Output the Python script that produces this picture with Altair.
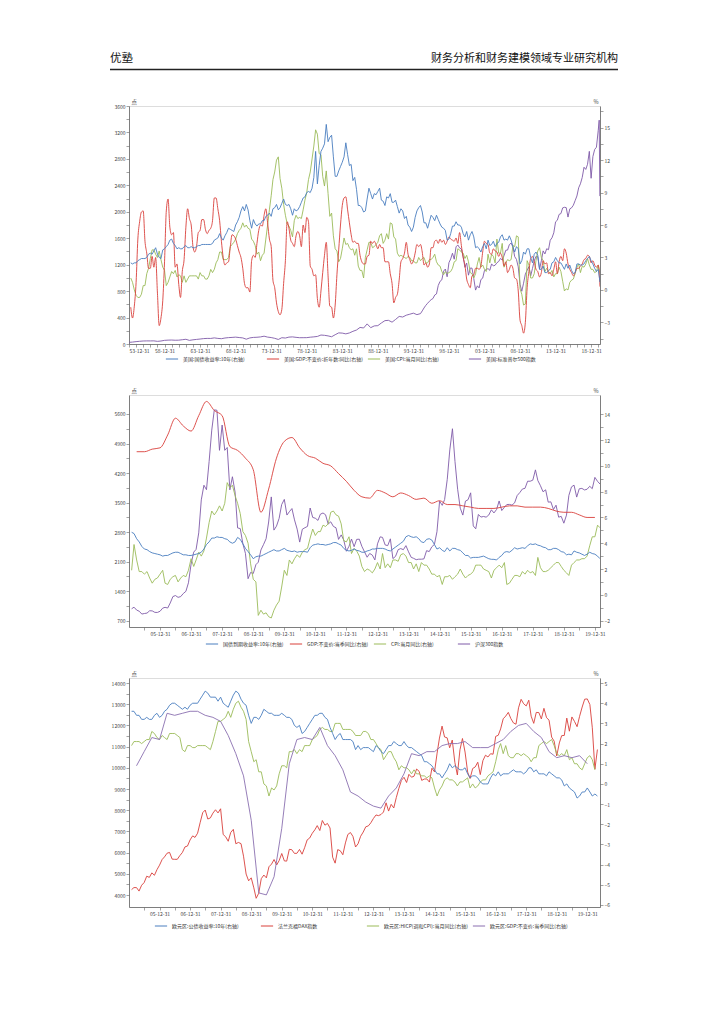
import altair as alt
import pandas as pd

FONT = "Noto Sans CJK SC"


def _freq(a, b):
    try:
        pd.date_range("2000-01-31", periods=2, freq=a)
        return a
    except Exception:
        return b


QF = _freq("QE", "Q")
MF = _freq("ME", "M")
HF = _freq("6ME", "6M")

# ---------------- Chart 1 : USA ----------------
us_names = ["美国:国债收益率:10年(右轴)", "美国:GDP:不变价:折年数:同比(右轴)",
            "美国:CPI:当月同比(右轴)", "美国:标准普尔500指数"]
us_colors = ["#4a7ebf", "#d9403b", "#9bbb59", "#7f5aa8"]

us_yield_q = [
    2.5, 2.4, 2.5, 2.5, 2.7, 2.8, 2.9, 2.9, 2.9, 3.0, 3.3, 3.4, 3.3, 3.6, 3.9, 3.3,
    3.0, 2.9, 3.7, 3.8, 4.0, 4.2, 4.6, 4.7, 4.3, 4.1, 3.8, 3.9, 3.8, 3.8, 4.0, 4.1,
    3.9, 3.9, 4.0, 3.9, 3.9, 4.0, 4.1, 4.1, 4.2, 4.2, 4.2, 4.2, 4.2, 4.2, 4.3, 4.6,
    4.7, 4.8, 5.2, 4.8, 4.6, 5.0, 5.3, 5.7, 5.6, 5.5, 5.4, 6.0, 6.3, 6.7, 7.3, 7.7,
    7.3, 7.9, 7.4, 6.4, 5.7, 6.5, 6.1, 5.9, 6.1, 6.1, 6.4, 6.4, 6.8, 6.9, 7.1, 6.8,
    7.5, 7.6, 7.9, 7.4, 7.6, 8.0, 8.4, 7.9, 7.8, 7.9, 7.5, 6.9, 7.5, 7.3, 7.4, 7.7,
    8.1, 8.5, 8.6, 9.0, 9.1, 9.0, 9.4, 10.4, 12.8, 9.8, 11.5, 12.8, 13.1, 13.5, 15.3, 13.7,
    14.1, 14.3, 12.3, 10.5, 10.5, 11.0, 11.4, 11.8, 12.3, 13.6, 12.5, 11.5, 11.6, 10.1, 10.4, 9.3,
    7.8, 7.8, 7.6, 7.2, 7.3, 8.4, 9.4, 8.9, 8.4, 8.9, 8.8, 9.1, 9.4, 8.3, 8.2, 7.8,
    8.6, 8.5, 8.9, 8.1, 8.1, 8.3, 7.7, 7.1, 7.5, 7.3, 6.6, 6.8, 6.0, 5.8, 5.4, 5.8,
    6.7, 7.3, 7.6, 7.8, 7.2, 6.2, 6.2, 5.7, 6.3, 6.9, 6.7, 6.4, 6.9, 6.5, 6.1, 5.8,
    5.7, 5.5, 4.6, 4.7, 5.2, 5.9, 5.9, 6.3, 6.0, 6.0, 5.8, 5.2, 4.9, 5.4, 4.6, 5.1,
    5.4, 4.9, 3.9, 4.0, 3.8, 3.5, 4.0, 4.3, 3.8, 4.6, 4.1, 4.2, 4.5, 4.0, 4.3, 4.4,
    4.9, 5.1, 4.6, 4.7, 4.6, 5.0, 4.6, 4.0, 3.5, 4.0, 3.8, 2.4, 2.7, 3.5, 3.3, 3.8,
    3.8, 3.0, 2.5, 3.3, 3.5, 3.2, 1.9, 1.9, 2.2, 1.6, 1.6, 1.8, 1.9, 2.5, 2.6, 3.0,
    2.7, 2.5, 2.5, 2.2, 1.9, 2.4, 2.0, 2.3, 1.8, 1.5, 1.6, 2.4, 2.4, 2.3, 2.3, 2.4,
    2.7, 2.9, 3.1, 2.7, 2.4, 2.0, 1.7, 1.9, 0.7]

us_gdp_q = [
    -1.6, -2.6, -1.5, 0.7, 4.7, 6.3, 7.2, 7.3, 4.5, 3.4, 2.0, 2.0, 3.1, 2.1, 3.0, -0.3,
    -3.3, -2.6, -1.0, 2.6, 7.3, 8.4, 5.8, 5.1, 5.3, 2.1, 2.4, 0.5, -0.7, 1.7, 2.8, 5.8,
    7.5, 6.6, 6.0, 4.0, 3.5, 4.0, 5.3, 5.5, 6.5, 6.5, 5.6, 5.2, 5.5, 5.7, 6.4, 8.5,
    8.5, 7.5, 6.4, 4.5, 3.0, 2.3, 2.5, 2.6, 4.0, 5.1, 5.0, 4.7, 4.1, 3.5, 3.0, 2.0,
    0.6, 0.2, 0.2, -0.2, 2.7, 3.2, 3.0, 4.3, 5.5, 6.0, 5.9, 6.9, 7.5, 6.2, 4.7, 4.0,
    0.9, 0.2, -1.2, -2.0, -2.3, -1.8, 0.6, 2.7, 6.3, 5.7, 4.6, 4.3, 4.0, 5.0, 5.4, 5.0,
    4.0, 6.0, 5.3, 6.7, 6.3, 2.2, 1.9, 1.3, 1.4, -0.8, -1.6, -0.1, 1.6, 3.2, 4.4, 1.3,
    -1.5, -1.6, -2.6, -1.4, 1.4, 3.7, 6.0, 7.8, 8.5, 8.6, 7.4, 6.2, 5.1, 4.4, 4.5, 4.3,
    4.3, 3.2, 2.6, 2.4, 2.4, 3.1, 3.2, 4.5, 4.3, 4.5, 4.2, 3.8, 4.2, 3.9, 3.9, 2.6,
    2.6, 2.6, 1.5, 0.6, -1.2, -0.7, -0.4, 0.9, 2.6, 2.9, 3.4, 4.4, 3.3, 2.8, 2.4, 2.7,
    3.4, 4.2, 4.0, 4.2, 3.5, 2.3, 2.5, 2.1, 2.4, 3.9, 3.9, 4.5, 4.6, 4.3, 4.7, 4.4,
    4.6, 4.2, 4.5, 4.9, 4.7, 4.6, 4.5, 4.8, 4.3, 5.3, 4.1, 3.0, 2.3, 1.0, 0.5, 0.2,
    1.3, 1.4, 2.0, 2.0, 1.9, 2.2, 3.5, 4.5, 4.3, 4.2, 3.4, 3.3, 3.8, 3.6, 3.5, 3.1,
    3.4, 3.0, 2.2, 2.6, 1.6, 1.9, 2.3, 2.0, 1.1, 1.0, -0.1, -2.8, -3.3, -4.0, -3.0, 0.2,
    1.7, 2.9, 3.1, 2.6, 1.9, 1.7, 1.2, 1.6, 2.7, 2.4, 2.5, 1.5, 1.6, 1.3, 1.9, 2.6,
    1.5, 2.6, 3.1, 2.7, 3.8, 3.4, 2.4, 1.9, 1.6, 1.3, 1.6, 2.0, 2.0, 2.2, 2.4, 2.8,
    2.9, 3.2, 3.1, 2.5, 2.7, 2.3, 2.1, 2.3, 0.3]

us_cpi_q = [
    1.1, 0.7, 0.0, -0.5, -0.7, -0.7, -0.4, 0.4, 0.4, 1.5, 2.0, 2.9, 3.7, 3.7, 3.3, 3.0,
    3.6, 2.8, 2.1, 1.8, 0.4, 0.7, 1.2, 1.7, 1.5, 1.8, 1.2, 1.4, 1.3, 0.7, 1.3, 0.7,
    1.0, 1.3, 1.3, 1.3, 1.3, 1.3, 1.0, 1.6, 1.3, 1.3, 1.0, 1.0, 1.3, 1.9, 1.6, 1.9,
    2.5, 2.8, 3.5, 3.5, 2.8, 2.8, 2.8, 3.0, 4.0, 4.2, 4.4, 4.7, 5.2, 5.5, 5.7, 6.2,
    5.8, 6.0, 5.7, 5.6, 4.7, 4.5, 4.1, 3.3, 3.5, 2.7, 3.2, 3.4, 4.7, 6.0, 7.4, 8.7,
    10.2, 10.9, 12.0, 12.3, 10.3, 9.4, 7.9, 6.9, 6.1, 5.9, 5.5, 4.9, 6.4, 6.9, 6.6, 6.7,
    6.6, 7.4, 8.3, 9.0, 10.2, 10.9, 12.1, 13.3, 14.8, 14.4, 12.6, 12.5, 10.5, 9.6, 11.0, 8.9,
    6.8, 7.1, 5.0, 3.8, 3.6, 2.6, 2.9, 3.8, 4.8, 4.2, 4.3, 3.9, 3.7, 3.8, 3.2, 3.8,
    2.2, 1.8, 1.8, 1.1, 3.0, 3.7, 4.4, 4.4, 3.9, 4.0, 4.2, 4.4, 5.0, 5.2, 4.3, 4.6,
    5.2, 4.7, 6.2, 6.1, 4.9, 4.7, 3.4, 3.1, 3.2, 3.1, 3.0, 2.9, 3.1, 3.0, 2.7, 2.7,
    2.5, 2.5, 3.0, 2.7, 2.9, 3.0, 2.5, 2.5, 2.8, 2.8, 3.0, 3.3, 2.6, 2.3, 2.2, 1.7,
    1.4, 1.7, 1.5, 1.6, 1.7, 2.0, 2.6, 2.7, 3.8, 3.7, 3.5, 3.4, 2.9, 3.2, 2.6, 1.6,
    1.5, 1.1, 1.5, 2.4, 3.0, 2.1, 2.3, 1.9, 1.7, 3.3, 2.5, 3.3, 3.1, 2.5, 4.7, 3.4,
    3.4, 4.3, 2.1, 2.5, 2.8, 2.7, 2.8, 4.1, 4.0, 5.0, 4.9, 0.1, -0.4, -1.4, -1.3, 2.7,
    2.3, 1.1, 1.1, 1.5, 2.7, 3.6, 3.9, 3.0, 2.7, 1.7, 2.0, 1.7, 1.5, 1.8, 1.2, 1.5,
    1.5, 2.1, 1.7, 0.8, -0.1, 0.1, 0.0, 0.7, 0.9, 1.0, 1.5, 2.1, 2.4, 1.6, 2.2, 2.1,
    2.4, 2.9, 2.3, 1.9, 1.9, 1.6, 1.7, 2.3, 1.5]

sp_half = [
    24.8, 29.2, 36.0, 41.0, 45.5, 47.0, 46.7, 47.4, 40.0, 45.2, 55.2, 58.5, 59.9,
    56.9, 58.1, 64.6, 71.6, 54.8, 63.1, 69.4, 75.0, 81.7, 84.8, 84.1, 92.4,
    84.7, 80.3, 90.6, 96.5, 99.6, 103.9, 97.7, 92.1, 72.7, 92.2, 99.7, 102.1,
    107.1, 118.1, 104.3, 97.6, 86.0, 68.6, 95.2, 90.2, 104.3, 107.5, 100.5, 95.1,
    95.5, 96.1, 102.9, 107.9, 114.2, 135.8, 131.2, 122.6, 109.6, 140.6, 168.1, 164.9,
    153.2, 167.2, 191.9, 211.3, 250.8, 242.2, 304.0, 247.1, 273.5, 277.7, 318.0, 353.4,
    358.0, 330.2, 371.2, 417.1, 408.1, 435.7, 450.5, 466.5, 444.3, 459.3]
sp_quarter = [
    500.7, 544.8, 584.4, 615.9, 645.5, 670.6, 687.3, 740.7, 757.1, 885.1, 947.3, 970.4,
    1101.8, 1133.8, 1017.0, 1229.2, 1286.4, 1372.7, 1282.7, 1469.3, 1498.6, 1454.6, 1436.5, 1320.3,
    1160.3, 1224.4, 1040.9, 1148.1, 1147.4, 989.8, 815.3, 879.8, 848.2, 974.5, 996.0, 1111.9,
    1126.2, 1140.8, 1114.6, 1211.9, 1180.6, 1191.3, 1228.8, 1248.3, 1294.8, 1270.2, 1335.8, 1418.3,
    1420.9, 1503.4, 1526.8, 1468.4, 1322.7, 1280.0, 1166.4, 903.3, 797.9, 919.3, 1057.1, 1115.1,
    1169.4, 1030.7, 1141.2, 1257.6, 1325.8, 1320.6, 1131.4, 1257.6, 1408.5, 1362.2, 1440.7, 1426.2,
    1569.2, 1606.3, 1681.6, 1848.4, 1872.3, 1960.2, 1972.3, 2058.9, 2067.9, 2063.1, 1920.0, 2043.9,
    2059.7, 2098.9, 2168.3, 2238.8, 2362.7, 2423.4, 2519.4, 2673.6, 2640.9, 2718.4, 2914.0, 2506.9,
    2834.4, 2941.8, 2976.7, 3230.8]
sp_tail_dates = ["2020-02-19", "2020-03-23"]
sp_tail = [3386.0, 2237.0]

# ---------------- Chart 2 : China ----------------
cn_names = ["国债到期收益率:10年(右轴)", "GDP:不变价:当季同比(右轴)",
            "CPI:当月同比(右轴)", "沪深300指数"]
cn_colors = ["#4a7ebf", "#d9403b", "#9bbb59", "#7f5aa8"]

cn_yield_m = [
    4.85, 4.75, 4.35, 4.10, 3.75, 3.55, 3.50, 3.35, 3.25, 3.20, 3.15, 3.10,
    3.00, 3.05, 3.05, 3.15, 3.25, 3.30, 3.30, 3.20, 3.10, 3.10, 3.05, 3.05,
    3.10, 3.15, 3.20, 3.30, 3.55, 3.90, 4.10, 4.40, 4.40, 4.50, 4.45, 4.45,
    4.35, 4.30, 4.10, 4.00, 4.10, 4.45, 4.30, 3.95, 3.60, 3.35, 3.10, 2.80,
    2.95, 3.00, 3.00, 3.10, 3.20, 3.30, 3.40, 3.50, 3.40, 3.40, 3.50, 3.60,
    3.45, 3.40, 3.35, 3.40, 3.30, 3.35, 3.35, 3.35, 3.30, 3.65, 3.85, 3.90,
    3.95, 3.90, 3.90, 3.85, 3.90, 3.95, 4.05, 4.05, 3.95, 3.85, 3.60, 3.45,
    3.40, 3.45, 3.55, 3.45, 3.40, 3.30, 3.30, 3.40, 3.45, 3.55, 3.55, 3.60,
    3.60, 3.60, 3.55, 3.45, 3.40, 3.55, 3.70, 3.85, 4.00, 4.15, 4.50, 4.60,
    4.50, 4.45, 4.50, 4.35, 4.10, 4.05, 4.30, 4.35, 4.25, 3.90, 3.55, 3.65,
    3.45, 3.35, 3.65, 3.40, 3.60, 3.60, 3.50, 3.45, 3.25, 3.05, 3.05, 2.85,
    2.90, 2.90, 2.90, 2.95, 3.00, 2.90, 2.80, 2.75, 2.75, 2.70, 2.90, 3.05,
    3.30, 3.35, 3.30, 3.45, 3.65, 3.55, 3.60, 3.65, 3.60, 3.80, 3.95, 3.90,
    3.95, 3.85, 3.80, 3.70, 3.65, 3.50, 3.50, 3.60, 3.60, 3.50, 3.35, 3.30,
    3.10, 3.15, 3.10, 3.40, 3.30, 3.25, 3.15, 3.05, 3.15, 3.30, 3.20, 3.15,
    3.00, 2.80]

cn_gdp_q = [
    11.1, 11.1, 11.3, 11.4, 12.4, 13.7, 13.1, 12.7, 13.9, 15.0, 14.3, 13.9,
    11.5, 11.2, 10.6, 9.7, 6.4, 8.2, 10.6, 11.9, 12.2, 11.4, 10.8, 10.6,
    10.2, 10.0, 9.4, 8.8, 8.1, 7.6, 7.5, 8.1, 7.9, 7.6, 7.9, 7.7,
    7.4, 7.5, 7.1, 7.3, 7.0, 7.0, 6.9, 6.8, 6.7, 6.7, 6.7, 6.8,
    6.9, 6.9, 6.8, 6.8, 6.8, 6.7, 6.5, 6.4, 6.4, 6.2, 6.0, 6.0]

cn_cpi_m = [
    1.9, 3.9, 2.7, 1.8, 1.8, 1.6, 1.8, 1.3, 0.9, 1.2, 1.3, 1.6,
    1.9, 0.9, 0.8, 1.2, 1.4, 1.5, 1.0, 1.3, 1.5, 1.4, 1.9, 2.8,
    2.2, 2.7, 3.3, 3.0, 3.4, 4.4, 5.6, 6.5, 6.2, 6.5, 6.9, 6.5,
    7.1, 8.7, 8.3, 8.5, 7.7, 7.1, 6.3, 4.9, 4.6, 4.0, 2.4, 1.2,
    1.0, -1.6, -1.2, -1.5, -1.4, -1.7, -1.8, -1.2, -0.8, -0.5, 0.6, 1.9,
    1.5, 2.7, 2.4, 2.8, 3.1, 2.9, 3.3, 3.5, 3.6, 4.4, 5.1, 4.6,
    4.9, 4.9, 5.4, 5.3, 5.5, 6.4, 6.5, 6.2, 6.1, 5.5, 4.2, 4.1,
    4.5, 3.2, 3.6, 3.4, 3.0, 2.2, 1.8, 2.0, 1.9, 1.7, 2.0, 2.5,
    2.0, 3.2, 2.1, 2.4, 2.1, 2.7, 2.7, 2.6, 3.1, 3.2, 3.0, 2.5,
    2.5, 2.0, 2.4, 1.8, 2.5, 2.3, 2.3, 2.0, 1.6, 1.6, 1.4, 1.5,
    0.8, 1.4, 1.4, 1.5, 1.2, 1.4, 1.6, 2.0, 1.6, 1.3, 1.5, 1.6,
    1.8, 2.3, 2.3, 2.3, 2.0, 1.9, 1.8, 1.3, 1.9, 2.1, 2.3, 2.1,
    2.5, 0.8, 0.9, 1.2, 1.5, 1.5, 1.4, 1.8, 1.6, 1.9, 1.7, 1.8,
    1.5, 2.9, 2.1, 1.8, 1.8, 1.9, 2.1, 2.3, 2.5, 2.5, 2.2, 1.9,
    1.7, 1.5, 2.3, 2.5, 2.7, 2.7, 2.8, 2.8, 3.0, 3.8, 4.5, 4.5,
    5.4, 5.2]

csi300_m = [
    982, 1020, 951, 924, 857, 870, 880, 935, 932, 897, 895, 923,
    997, 1016, 1000, 1120, 1271, 1296, 1253, 1271, 1343, 1396, 1598, 2041,
    2326, 2390, 2782, 3564, 3911, 3805, 4473, 5218, 5698, 5688, 4738, 5338,
    4739, 4806, 3802, 4112, 3751, 2899, 2883, 2524, 2296, 1695, 1844, 1817,
    2028, 2086, 2376, 2501, 2643, 3039, 3634, 2847, 2940, 3125, 3452, 3575,
    3204, 3282, 3358, 3089, 2870, 2563, 2868, 2904, 2936, 3371, 3148, 3128,
    3077, 3224, 3253, 3211, 2990, 3044, 2935, 2902, 2627, 2734, 2611, 2346,
    2464, 2635, 2455, 2627, 2632, 2462, 2333, 2204, 2293, 2255, 2140, 2522,
    2687, 2674, 2495, 2479, 2640, 2172, 2225, 2384, 2409, 2383, 2479, 2331,
    2202, 2178, 2146, 2158, 2157, 2165, 2360, 2338, 2450, 2508, 2809, 3533,
    3434, 3572, 4051, 4749, 5250, 4473, 3816, 3367, 3203, 3534, 3566, 3731,
    2946, 2877, 3218, 3156, 3170, 3154, 3204, 3328, 3254, 3336, 3538, 3311,
    3387, 3453, 3456, 3439, 3493, 3666, 3737, 3822, 3837, 4006, 4006, 4031,
    4275, 4023, 3899, 3756, 3802, 3510, 3517, 3335, 3438, 3153, 3173, 3011,
    3202, 3670, 3872, 3913, 3630, 3826, 3836, 3799, 3815, 3886, 3829, 4097,
    4003, 3940]

# ---------------- Chart 3 : Euro area ----------------
eu_names = ["欧元区:公债收益率:10年(右轴)", "法兰克福DAX指数",
            "欧元区:HICP(调和CPI):当月同比(右轴)", "欧元区:GDP:不变价:当季同比(右轴)"]
eu_colors = ["#4a7ebf", "#d9403b", "#9bbb59", "#8a6fb0"]

eu_yield_m = [
    3.6, 3.6, 3.4, 3.4, 3.2, 3.2, 3.3, 3.2, 3.2, 3.4, 3.5, 3.3,
    3.4, 3.6, 3.7, 3.9, 4.0, 4.0, 3.9, 3.8, 3.7, 3.8, 3.7, 3.9,
    4.0, 4.0, 4.0, 4.2, 4.4, 4.6, 4.5, 4.3, 4.3, 4.3, 4.1, 4.3,
    4.0, 3.9, 3.8, 4.1, 4.4, 4.6, 4.5, 4.2, 4.0, 3.9, 3.4, 3.0,
    3.3, 3.3, 3.2, 3.4, 3.7, 3.6, 3.5, 3.5, 3.4, 3.4, 3.4, 3.5,
    3.4, 3.3, 3.3, 3.2, 2.9, 2.8, 2.9, 2.5, 2.6, 2.8, 3.0, 3.2,
    3.4, 3.4, 3.5, 3.5, 3.3, 3.2, 2.8, 2.5, 2.2, 2.4, 2.5, 2.2,
    2.2, 2.2, 2.2, 2.1, 1.7, 1.9, 1.7, 1.8, 1.8, 1.8, 1.7, 1.6,
    1.9, 1.8, 1.6, 1.5, 1.7, 1.9, 1.9, 2.1, 2.0, 1.9, 1.9, 2.1,
    1.9, 1.8, 1.8, 1.7, 1.6, 1.5, 1.4, 1.1, 1.1, 1.0, 0.9, 0.7,
    0.5, 0.5, 0.3, 0.5, 0.7, 1.0, 0.8, 0.9, 0.8, 0.7, 0.7, 0.8,
    0.5, 0.3, 0.4, 0.4, 0.3, 0.1, 0.0, 0.0, 0.0, 0.3, 0.5, 0.4,
    0.6, 0.4, 0.5, 0.5, 0.5, 0.6, 0.7, 0.6, 0.6, 0.6, 0.5, 0.6,
    0.8, 0.8, 0.6, 0.7, 0.5, 0.5, 0.5, 0.4, 0.6, 0.5, 0.4, 0.3,
    0.3, 0.2, -0.1, 0.0, -0.2, -0.3, -0.4, -0.7, -0.6, -0.4, -0.4, -0.2,
    -0.4, -0.6, -0.5, -0.6]

dax_m = [
    4255, 4350, 4349, 4185, 4460, 4586, 4887, 4830, 5044, 4929, 5193, 5408,
    5674, 5797, 5971, 6009, 5692, 5683, 5682, 5860, 6004, 6269, 6309, 6597,
    6789, 6716, 6917, 7409, 7884, 8007, 7584, 7638, 7862, 8020, 7871, 8067,
    6852, 6748, 6535, 6949, 7097, 6418, 6479, 6422, 5831, 4988, 4669, 4810,
    4338, 3844, 4085, 4770, 4941, 4809, 5332, 5458, 5675, 5415, 5626, 5957,
    5608, 5598, 6154, 6136, 5964, 5966, 6148, 5925, 6229, 6601, 6688, 6914,
    7077, 7273, 7041, 7514, 7294, 7376, 7159, 5785, 5502, 6141, 6089, 5898,
    6458, 6856, 6947, 6761, 6264, 6416, 6772, 6971, 7216, 7260, 7406, 7612,
    7776, 7742, 7795, 7914, 8349, 7959, 8276, 8104, 8594, 9033, 9406, 9552,
    9306, 9692, 9556, 9603, 9943, 9833, 9407, 9470, 9474, 9327, 9981, 9806,
    10694, 11402, 11966, 11454, 11414, 10945, 11309, 10259, 9660, 10850, 11382, 10743,
    9798, 9495, 9966, 10039, 10263, 9680, 10337, 10593, 10511, 10665, 10640, 11481,
    11535, 11834, 12313, 12438, 12615, 12325, 12118, 12056, 12829, 13230, 13024, 12918,
    13189, 12436, 12097, 12612, 12605, 12306, 12806, 12364, 12247, 11448, 11257, 10559,
    11173, 11516, 11526, 12344, 11727, 12399, 12189, 11939, 12428, 12867, 13236, 13249,
    12982, 11890, 9936, 10862]

hicp_m = [
    1.9, 2.1, 2.1, 2.1, 2.0, 2.1, 2.2, 2.2, 2.6, 2.5, 2.3, 2.2,
    2.4, 2.3, 2.2, 2.5, 2.5, 2.5, 2.4, 2.3, 1.7, 1.6, 1.9, 1.9,
    1.8, 1.8, 1.9, 1.9, 1.9, 1.9, 1.8, 1.7, 2.1, 2.6, 3.1, 3.1,
    3.2, 3.3, 3.6, 3.3, 3.7, 4.0, 4.1, 3.8, 3.6, 3.2, 2.1, 1.6,
    1.1, 1.2, 0.6, 0.6, 0.0, -0.1, -0.6, -0.2, -0.3, -0.1, 0.5, 0.9,
    0.9, 0.8, 1.6, 1.6, 1.7, 1.5, 1.7, 1.6, 1.9, 1.9, 1.9, 2.2,
    2.3, 2.4, 2.7, 2.8, 2.7, 2.7, 2.6, 2.6, 3.0, 3.0, 3.0, 2.7,
    2.7, 2.7, 2.7, 2.6, 2.4, 2.4, 2.4, 2.6, 2.6, 2.5, 2.2, 2.2,
    2.0, 1.8, 1.7, 1.2, 1.4, 1.6, 1.6, 1.3, 1.1, 0.7, 0.9, 0.8,
    0.8, 0.7, 0.5, 0.7, 0.5, 0.5, 0.4, 0.4, 0.3, 0.4, 0.3, -0.2,
    -0.6, -0.3, -0.1, 0.2, 0.3, 0.2, 0.2, 0.1, -0.1, 0.1, 0.1, 0.2,
    0.3, -0.2, 0.0, -0.2, -0.1, 0.1, 0.2, 0.2, 0.4, 0.5, 0.6, 1.1,
    1.7, 2.0, 1.5, 1.9, 1.4, 1.3, 1.3, 1.5, 1.5, 1.4, 1.5, 1.4,
    1.3, 1.1, 1.3, 1.3, 1.9, 2.0, 2.1, 2.0, 2.1, 2.2, 1.9, 1.5,
    1.4, 1.5, 1.4, 1.7, 1.2, 1.3, 1.0, 1.0, 0.8, 0.7, 1.0, 1.3,
    1.4, 1.2, 0.7]

eu_gdp_q = [
    0.9, 1.6, 2.3, 2.2, 3.5, 3.4, 3.5, 3.6, 3.6, 3.4, 3.3, 3.1,
    2.4, 1.5, 0.4, -1.8, -5.4, -5.5, -4.6, -2.2, 1.0, 2.2, 2.3, 2.2,
    2.8, 1.9, 1.4, 0.7, -0.4, -0.6, -0.9, -1.1, -1.2, -0.6, -0.2, 0.5,
    1.5, 1.4, 1.6, 1.6, 1.9, 2.0, 2.0, 2.1, 1.8, 1.8, 1.8, 2.0,
    2.2, 2.6, 2.9, 3.0, 2.6, 2.3, 1.6, 1.3, 1.4, 1.3, 1.4, 1.0]

W = 471


def sdf(name, dates, vals):
    return pd.DataFrame({"date": pd.to_datetime(dates), "value": vals, "series": name})


def dt(y, m, d):
    return alt.DateTime(year=y, month=m, date=d)


AX = dict(grid=False, domainColor="#666666", domainWidth=0.8, tickColor="#666666",
          tickWidth=0.6, tickSize=3, labelFontSize=5, labelColor="#444444",
          labelFont=FONT, labelPadding=1, titleFont=FONT, titleFontSize=5.5,
          titleFontWeight="normal", titleColor="#444444", titleAngle=0,
          titleBaseline="bottom", titleY=-2)


def panel(layers_right, layers_left, names, colors, xdom, xvals, xlab,
          ldom, lvals, llab, rdom, rvals, rlab, h, lx, ly, extra=()):
    color = alt.Color(
        "series:N", scale=alt.Scale(domain=names, range=colors),
        legend=alt.Legend(title=None, orient="none", legendX=lx, legendY=ly,
                          direction="horizontal", columns=4, gridAlign="all",
                          columnPadding=2, symbolType="stroke", symbolSize=150,
                          symbolStrokeWidth=1, labelFontSize=5, labelFont=FONT,
                          labelColor="#333333", labelLimit=400))
    x = alt.X("date:T", scale=alt.Scale(domain=xdom),
              axis=alt.Axis(values=xvals, labelExpr=xlab, title=None, **AX))
    yl = alt.Y("value:Q", scale=alt.Scale(domain=ldom),
               axis=alt.Axis(orient="left", values=lvals, labelExpr=llab, format="d",
                             title="点", titleAlign="left", titleX=2, **AX))
    yr = alt.Y("value:Q", scale=alt.Scale(domain=rdom),
               axis=alt.Axis(orient="right", values=rvals, labelExpr=rlab, format="d",
                             title="%", titleAlign="right", titleX=-2, **AX))
    rl = [alt.Chart(d).mark_line(strokeWidth=0.9, clip=True, interpolate=ip)
          .encode(x=x, y=yr, color=color) for d, ip in layers_right]
    ll = [alt.Chart(d).mark_line(strokeWidth=0.9, clip=True, interpolate=ip)
          .encode(x=x, y=yl, color=color) for d, ip in layers_left]
    right = alt.layer(*rl)
    left = alt.layer(*ll)
    return (alt.layer(left, right, *extra)
            .resolve_scale(y="independent")
            .properties(width=W, height=h))


# ---- chart 1 ----
sp_dates = (list(pd.date_range("1953-12-31", periods=len(sp_half), freq=HF))
            + list(pd.date_range("1995-03-31", periods=len(sp_quarter), freq=QF))
            + list(pd.to_datetime(sp_tail_dates)))
sp_vals = sp_half + sp_quarter + sp_tail
us_blue = sdf(us_names[0], pd.date_range("1954-03-31", periods=len(us_yield_q), freq=QF), us_yield_q)
us_red = sdf(us_names[1], pd.date_range("1954-03-31", periods=len(us_gdp_q), freq=QF), us_gdp_q)
us_green = sdf(us_names[2], pd.date_range("1954-03-31", periods=len(us_cpi_q), freq=QF), us_cpi_q)
us_purple = sdf(us_names[3], sp_dates, sp_vals)

hdr_l = alt.Chart(pd.DataFrame({"t": ["优塾"]})).mark_text(
    align="left", baseline="middle", fontSize=11.5, font=FONT, color="#111111"
).encode(x=alt.value(-19), y=alt.value(-47), text="t:N")
hdr_r = alt.Chart(pd.DataFrame({"t": ["财务分析和财务建模领域专业研究机构"]})).mark_text(
    align="right", baseline="middle", fontSize=11, font=FONT, color="#111111"
).encode(x=alt.value(489), y=alt.value(-47), text="t:N")
hdr_rule = alt.Chart(pd.DataFrame({"a": [0]})).mark_rule(
    color="#222222", strokeWidth=1.4
).encode(x=alt.value(-19), x2=alt.value(489), y=alt.value(-36.5))

c1 = panel(
    [(us_green, "linear"), (us_red, "monotone"), (us_blue, "linear")], [(us_purple, "linear")],
    us_names, us_colors,
    [dt(1953, 12, 31), dt(2020, 3, 31)],
    [dt(y, 12, 31) for y in range(1953, 2020)],
    "(year(datum.value) - 1953) % 5 == 0 ? timeFormat(datum.value, '%y-%m-%d') : ''",
    [0, 3600], list(range(0, 3601, 200)), "datum.value % 400 == 0 ? datum.label : ''",
    [-5, 17], [-4.5 + 1.5 * i for i in range(15)], "datum.value % 3 == 0 ? datum.label : ''",
    238, 36, 246, extra=(hdr_l, hdr_r, hdr_rule))

# ---- chart 2 ----
cn_blue = sdf(cn_names[0], pd.date_range("2005-01-31", periods=len(cn_yield_m), freq=MF), cn_yield_m)
cn_red = sdf(cn_names[1], pd.date_range("2005-03-31", periods=len(cn_gdp_q), freq=QF), cn_gdp_q)
cn_green = sdf(cn_names[2], pd.date_range("2005-01-31", periods=len(cn_cpi_m), freq=MF), cn_cpi_m)
cn_purple = sdf(cn_names[3], pd.date_range("2005-01-31", periods=len(csi300_m), freq=MF), csi300_m)

half_ticks = []
for y in range(2005, 2020):
    half_ticks += [dt(y, 6, 30), dt(y, 12, 31)]
XLAB2 = "month(datum.value) == 11 ? timeFormat(datum.value, '%y-%m-%d') : ''"

c2 = panel(
    [(cn_green, "linear"), (cn_red, "monotone"), (cn_blue, "linear")], [(cn_purple, "linear")],
    cn_names, cn_colors,
    [dt(2004, 12, 31), dt(2020, 2, 29)], half_ticks, XLAB2,
    [550, 6050], list(range(700, 5601, 350)), "(datum.value - 700) % 700 == 0 ? datum.label : ''",
    [-2.5, 15.5], list(range(-2, 15)), "datum.value % 2 == 0 ? datum.label : ''",
    232, 76, 242)

# ---- chart 3 ----
eu_blue = sdf(eu_names[0], pd.date_range("2005-01-31", periods=len(eu_yield_m), freq=MF), eu_yield_m)
eu_red = sdf(eu_names[1], pd.date_range("2005-01-31", periods=len(dax_m), freq=MF), dax_m)
eu_green = sdf(eu_names[2], pd.date_range("2005-01-31", periods=len(hicp_m), freq=MF), hicp_m)
eu_purple = sdf(eu_names[3], pd.date_range("2005-03-31", periods=len(eu_gdp_q), freq=QF), eu_gdp_q)

c3 = panel(
    [(eu_green, "linear"), (eu_purple, "linear"), (eu_blue, "linear")], [(eu_red, "linear")],
    eu_names, eu_colors,
    [dt(2004, 12, 31), dt(2020, 5, 31)], half_ticks, XLAB2,
    [3434, 14236], list(range(4000, 14001, 500)), "datum.value % 1000 == 0 ? datum.label : ''",
    [-6.1, 5.25], [-6 + 0.5 * i for i in range(23)], "datum.value % 1 == 0 ? datum.label : ''",
    229, 25, 241)

chart = (alt.vconcat(c1, c2, c3, spacing=51, bounds="flush")
         .resolve_scale(color="independent", x="independent")
         .resolve_legend(color="independent")
         .properties(padding={"left": 100, "top": 44, "right": 20, "bottom": 20})
         .configure_view(strokeWidth=0)
         .configure(background="white"))

chart.save("out.html", embed_options={"renderer": "svg", "actions": False})
